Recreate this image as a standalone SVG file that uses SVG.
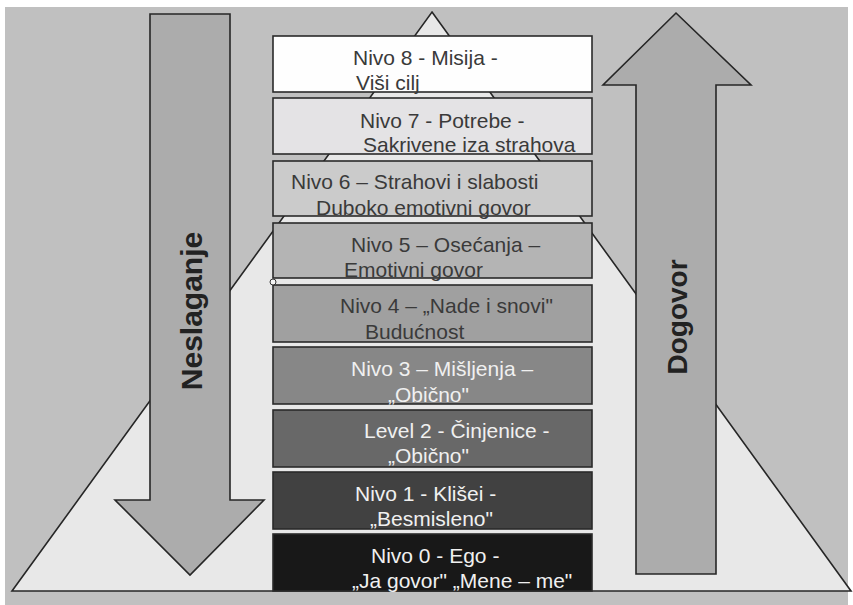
<svg xmlns="http://www.w3.org/2000/svg" width="853" height="605" viewBox="0 0 853 605">
<style>
.shape{stroke:#262626;stroke-width:1.6;stroke-linejoin:miter}
.box{stroke:#2a2a2a;stroke-width:1.6}
.t{font-family:"Liberation Sans",Arial,sans-serif;font-size:21px}
.dk{fill:#3a3a3a}
.lt{fill:#f0f0f0}
.big{font-family:"Liberation Sans",Arial,sans-serif;font-weight:bold;fill:#222;text-anchor:middle}
</style>
<rect x="0" y="0" width="853" height="605" fill="#ffffff"/>
<rect x="5" y="7" width="843" height="598" fill="#c0c0c0"/>
<g id="pyramid">
<polygon class="shape" points="432,12 851,591 12,591" fill="#e8e8e8"/>
</g>
<g id="arrow-neslaganje">
<polygon class="shape" points="150,14 230,14 230,500 264,500 190,575 115,500 150,500" fill="#acacac"/>
<text class="big" font-size="30" transform="translate(202,311) rotate(-90)">Neslaganje</text>
</g>
<g id="arrow-dogovor">
<polygon class="shape" points="676,13 751,85 716,85 716,574 636,574 636,85 603,85" fill="#acacac"/>
<text class="big" font-size="28" transform="translate(687,317) rotate(-90)">Dogovor</text>
</g>
<g id="nivo8">
<rect class="box" x="273" y="36" width="319" height="56" fill="#fefefe"/>
<text class="t dk" x="353" y="65">Nivo 8 - Misija -</text>
<text class="t dk" x="356" y="90">Viši cilj</text>
</g>
<g id="nivo7">
<rect class="box" x="273" y="98" width="319" height="56" fill="#e4e3e5"/>
<text class="t dk" x="360" y="128">Nivo 7 - Potrebe -</text>
<text class="t dk" x="363" y="152">Sakrivene iza strahova</text>
</g>
<g id="nivo6">
<rect class="box" x="273" y="161" width="319" height="55" fill="#cbcbcb"/>
<text class="t dk" x="291" y="189">Nivo 6 – Strahovi i slabosti</text>
<text class="t dk" x="316" y="215">Duboko emotivni govor</text>
</g>
<g id="nivo5">
<rect class="box" x="273" y="223" width="319" height="55" fill="#b4b4b4"/>
<text class="t dk" x="351" y="252">Nivo 5 – Osećanja –</text>
<text class="t dk" x="344" y="277">Emotivni govor</text>
</g>
<g id="nivo4">
<rect class="box" x="273" y="285" width="319" height="57" fill="#a0a0a0"/>
<text class="t dk" x="340" y="313">Nivo 4 – „Nade i snovi"</text>
<text class="t dk" x="365" y="339">Budućnost</text>
</g>
<g id="nivo3">
<rect class="box" x="273" y="347" width="319" height="57" fill="#878787"/>
<text class="t lt" x="351" y="376">Nivo 3 – Mišljenja –</text>
<text class="t lt" x="388" y="402">„Obično"</text>
</g>
<g id="nivo2">
<rect class="box" x="273" y="410" width="319" height="57" fill="#686868"/>
<text class="t lt" x="364" y="438">Level 2 - Činjenice -</text>
<text class="t lt" x="388" y="463">„Obično"</text>
</g>
<g id="nivo1">
<rect class="box" x="273" y="472" width="319" height="57" fill="#414141"/>
<text class="t lt" x="355" y="501">Nivo 1 - Klišei -</text>
<text class="t lt" x="370" y="526">„Besmisleno"</text>
</g>
<g id="nivo0">
<rect class="box" x="273" y="534" width="319" height="57" fill="#181818"/>
<text class="t lt" x="371" y="563">Nivo 0 - Ego -</text>
<text class="t lt" x="352" y="588">„Ja govor" „Mene – me"</text>
</g>
<g id="handle">
<circle cx="273" cy="282" r="3" fill="#f4f4f4" stroke="#333" stroke-width="1"/>
</g>
</svg>
